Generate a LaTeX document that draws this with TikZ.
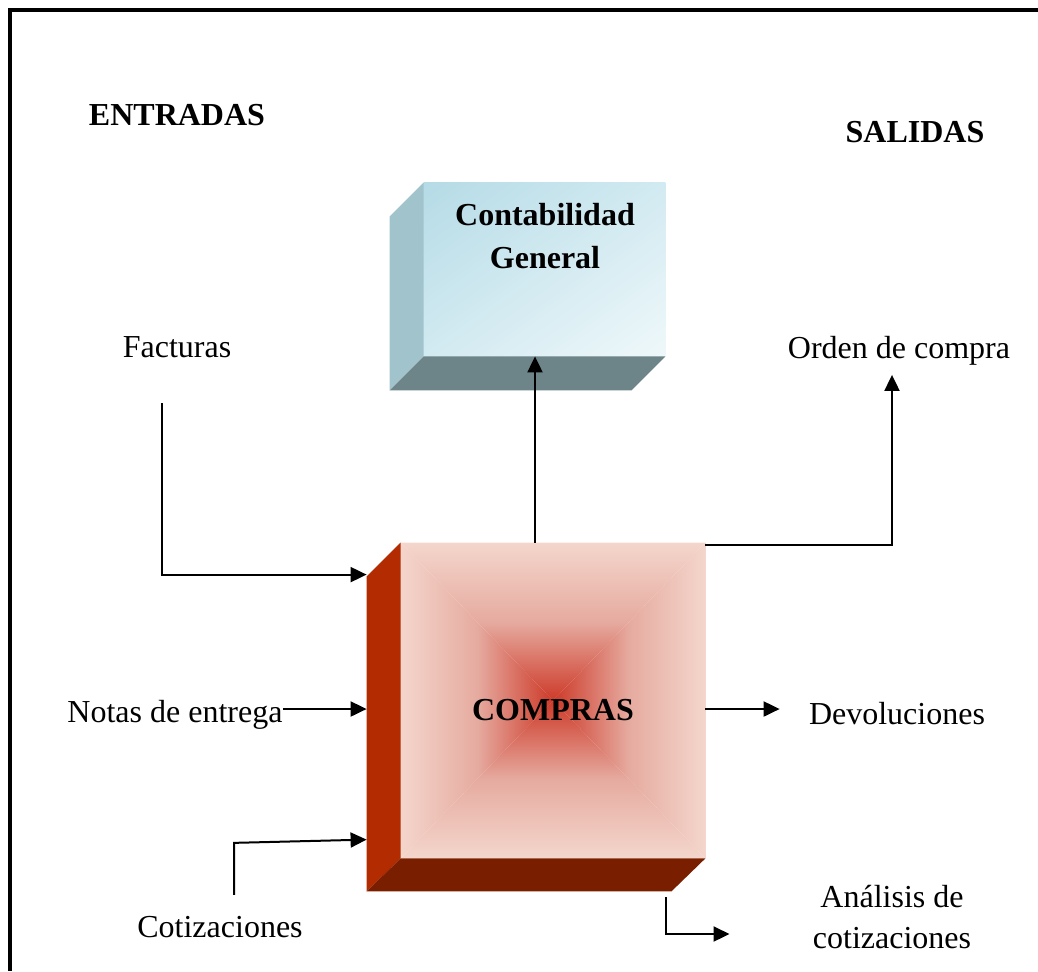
\documentclass[tikz,border=0pt]{standalone}
\usepackage{fontspec}
\setmainfont{Liberation Serif}
\usetikzlibrary{arrows.meta,shadings}

\definecolor{contabA}{HTML}{B5DBE6}
\definecolor{contabB}{HTML}{D2EAF1}
\definecolor{contabC}{HTML}{EFF8FA}
\definecolor{contabLado}{HTML}{A1C4CC}
\definecolor{contabBase}{HTML}{6D8488}
\definecolor{rojoBorde}{HTML}{F4D6CC}
\definecolor{rojoMedio}{HTML}{E6ABA0}
\definecolor{rojoCentro}{HTML}{CD3A29}
\definecolor{comprasLado}{HTML}{B32B00}
\definecolor{comprasBase}{HTML}{7A1E00}

\tikzset{
    texto/.style={inner sep=0pt, font=\fontsize{16}{19}\selectfont},
    titulo/.style={inner sep=0pt, font=\fontsize{16}{21.5}\selectfont\bfseries},
    flecha/.style={line width=1pt, -{Triangle[length=8pt,width=7.5pt]}},
}

\begin{document}
\begin{tikzpicture}[x=0.5pt, y=-0.5pt]
    \useasboundingbox (0,0) rectangle (1038,971);
    \draw[line width=2pt] (1038,10) -- (10,10) -- (10,971);

    \node[titulo] (entradas) at (177,115) {ENTRADAS};
    \node[titulo] (salidas) at (915,132) {SALIDAS};

    \node[minimum width=120.5pt, minimum height=86.5pt, inner sep=0pt] (contab) at (544.5,269.5) {};
    \shade[upper left=contabA, upper right=contabB, lower left=contabB, lower right=contabC] (contab.north west) rectangle (contab.south east);
    \fill[contabLado] (contab.north west) -- (contab.south west) -- ++(-34,34) -- ([shift={(-34,34)}]contab.north west) -- cycle;
    \fill[contabBase] (contab.south west) -- (contab.south east) -- ++(-34,34) -- ([shift={(-34,34)}]contab.south west) -- cycle;
    \node[titulo, align=center] (contabTxt) at (545,236) {Contabilidad\\General};

    \node[minimum width=152pt, minimum height=157.5pt, inner sep=0pt] (compras) at (553,700.5) {};
    \shade[top color=rojoBorde, bottom color=rojoCentro, middle color=rojoMedio] (compras.north west) -- (compras.north east) -- (compras.center) -- cycle;
    \shade[top color=rojoCentro, bottom color=rojoBorde, middle color=rojoMedio] (compras.south west) -- (compras.south east) -- (compras.center) -- cycle;
    \shade[left color=rojoBorde, right color=rojoCentro, middle color=rojoMedio] (compras.north west) -- (compras.south west) -- (compras.center) -- cycle;
    \shade[left color=rojoCentro, right color=rojoBorde, middle color=rojoMedio] (compras.north east) -- (compras.south east) -- (compras.center) -- cycle;
    \fill[comprasLado] (compras.north west) -- (compras.south west) -- ++(-34,33) -- ([shift={(-34,34)}]compras.north west) -- cycle;
    \fill[comprasBase] (compras.south west) -- (compras.south east) -- ++(-34,33) -- ([shift={(-34,33)}]compras.south west) -- cycle;
    \node[titulo] (comprasTxt) at (553,710) {COMPRAS};

    \node[texto] (fact) at (177,347) {Facturas};
    \node[texto] (orden) at (899,351) {Orden de compra};
    \node[texto] (notas) at (175,715) {Notas de entrega};
    \node[texto] (devol) at (897,714) {Devoluciones};
    \node[texto] (cotiz) at (220,927) {Cotizaciones};
    \node[texto, align=center, font=\fontsize{16}{20.5}\selectfont] (analisis) at (892,917) {Análisis de\\cotizaciones};
    \coordinate (notasFin) at ([yshift=3pt]notas.east);

    \draw[flecha] ([shift={(-15,45)}]fact.south) |- ([shift={(-34,32)}]compras.north west);
    \draw[flecha] (notasFin) -- ([xshift=-17pt]compras.west |- notasFin);
    \draw[flecha] ([shift={(14,-21)}]cotiz.north) -- ++(0,-52) -- ([shift={(-34,297)}]compras.north west);
    \draw[flecha] ([xshift=-9pt]compras.north) -- ([xshift=-9pt]compras.north |- contab.south);
    \draw[flecha] ([yshift=-1pt]compras.north east) -| ([shift={(-7,9)}]orden.south);
    \draw[flecha] (compras.east |- notasFin) -- ([xshift=-14.5pt]devol.west |- notasFin);
    \draw[flecha] ([shift={(-39,39)}]compras.south east) |- ([shift={(-83,17)}]analisis.west);
\end{tikzpicture}
\end{document}
